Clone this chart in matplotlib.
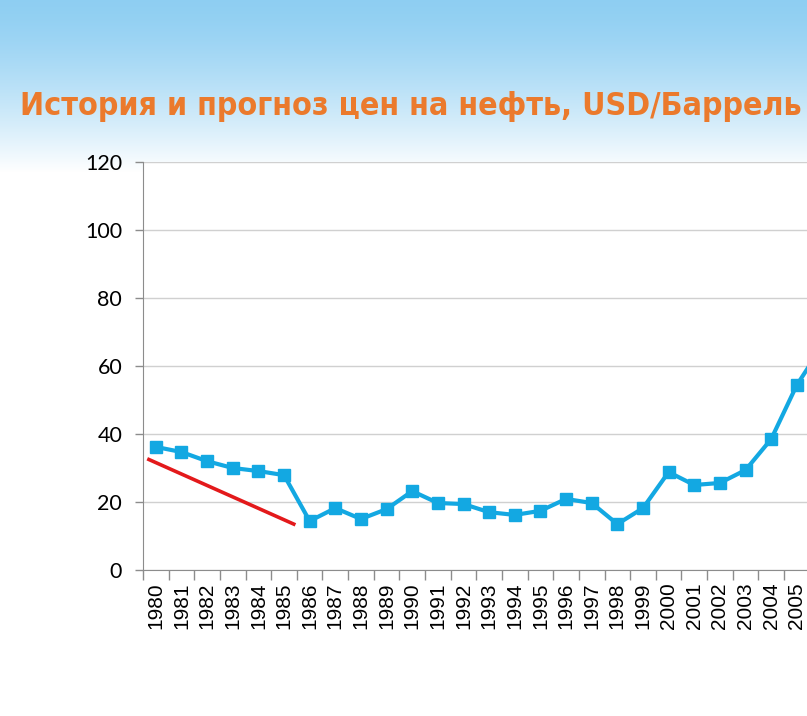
import numpy as np
import matplotlib
matplotlib.use("Agg")
import matplotlib.pyplot as plt
from matplotlib import font_manager as fm

# oil price, USD per barrel
years = [str(y) for y in range(1980, 2007)]
prices = [36.2, 34.7, 32.0, 30.0, 29.1, 27.9, 14.4, 18.2, 15.0, 17.9,
          23.2, 19.7, 19.4, 17.0, 16.2, 17.4, 20.9, 19.7, 13.5, 18.2,
          28.8, 25.0, 25.6, 29.4, 38.5, 54.4, 66.0]

# red trend line drawn by hand over the early years
trend_x = [-0.27, 5.38]
trend_y = [32.5, 13.5]

title = "История и прогноз цен на нефть, USD/Баррель"
yticks = [0, 20, 40, 60, 80, 100, 120]

W, H = 807, 716
fig = plt.figure(figsize=(W / 100, H / 100), dpi=100)

# sky background
bg = fig.add_axes([0, 0, 1, 1], zorder=-10)
bg.axis("off")
rows = np.linspace(0, 1, H)[:, None]
fade = np.clip(rows / 0.24, 0, 1) ** 1.4
top = np.array([0.56, 0.81, 0.95])
col = top[None, None, :] * (1 - fade[..., None]) + fade[..., None]
img = np.repeat(col, 4, axis=1)
bg.imshow(img, aspect="auto", extent=[0, 1, 0, 1])
bg.set_xlim(0, 1)
bg.set_ylim(0, 1)

# plot area: category step is 25.64 px, left edge at 143 px
step = 25.64
x0, y0, y1 = 143, 570, 162
ncat = len(years)
ax = fig.add_axes([x0 / W, (H - y0) / H, ncat * step / W, (y0 - y1) / H])
ax.set_facecolor("white")

x = np.arange(ncat)
ax.plot(x, prices, color="#13A8E2", lw=3, marker="s", ms=9, zorder=3)
ax.plot(trend_x, trend_y, color="#E3191B", lw=2.6, zorder=4)

ax.set_xlim(-0.5, ncat - 0.5)
ax.set_ylim(0, 120)
ax.set_yticks(yticks)
ax.set_yticklabels([str(v) for v in yticks], fontsize=15.5, family="Lato")
ax.yaxis.grid(True, color="#D0D0D0", lw=1)
ax.set_axisbelow(True)

ax.set_xticks(x)
ax.set_xticklabels(years, rotation=90, fontsize=15, family="Liberation Sans")
ax.get_xticklabels()[-1].set_visible(False)  # falls outside the picture
ax.set_xticks(np.arange(ncat + 1) - 0.5, minor=True)
ax.tick_params(axis="x", which="major", length=0, pad=9)
ax.tick_params(axis="x", which="minor", length=7, color="#8C8C8C", width=1)
ax.tick_params(axis="y", length=6, color="#8C8C8C", width=1, pad=9)

for s in ["top", "right"]:
    ax.spines[s].set_visible(False)
for s in ["left", "bottom"]:
    ax.spines[s].set_color("#8C8C8C")

# title: condensed bold if there is one, then shrink to the reference width
fp = fm.FontProperties(family="DejaVu Sans", stretch="condensed", weight="bold")
fam = "DejaVu Sans"
if "Condensed" not in fm.findfont(fp):
    fam = "Roboto"
t = fig.text(411 / W, 1 - 106 / H, title, ha="center", va="center",
             fontsize=25, fontweight="bold", color="#EB7A2C",
             family=fam, fontstretch="condensed")
fig.canvas.draw()
wpx = t.get_window_extent().width
t.set_fontsize(min(25, 25 * 783 / wpx))

fig.savefig("out.png", dpi=100)
